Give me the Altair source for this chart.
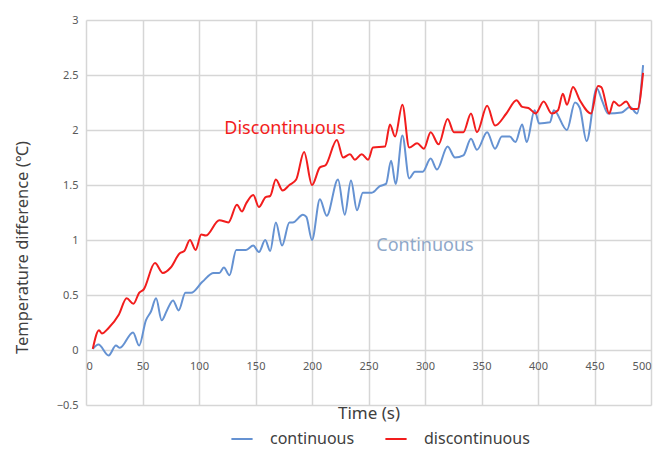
import altair as alt
import pandas as pd

# Temperature difference over time for the two operating modes
disc_t = [6, 11.5, 14, 20, 29, 36, 42, 47, 51, 61, 68, 75, 83, 87, 92, 97, 102, 106,
          118, 126, 133.6, 138, 141.6, 148, 153, 159, 163, 168, 174, 180, 186, 193,
          200, 207, 212, 222, 227.5, 233.6, 238, 244, 249.6, 254, 264.6, 269, 273.5,
          280, 286, 293, 299, 305, 312, 320, 325.6, 334, 340.7, 346, 355, 362, 372,
          381, 386, 391.5, 398, 405, 412, 417.7, 422, 425.6, 431, 437, 447, 453, 456,
          463, 467, 472, 478, 483, 488, 493]
disc_v = [0.01, 0.18, 0.15, 0.20, 0.32, 0.47, 0.42, 0.52, 0.55, 0.79, 0.70, 0.75, 0.88,
          0.90, 1.00, 0.91, 1.05, 1.04, 1.18, 1.16, 1.32, 1.26, 1.33, 1.41, 1.30, 1.39,
          1.40, 1.55, 1.45, 1.50, 1.55, 1.80, 1.50, 1.66, 1.68, 1.91, 1.75, 1.78, 1.73,
          1.78, 1.73, 1.84, 1.85, 2.05, 1.94, 2.23, 1.84, 1.88, 1.83, 1.98, 1.87, 2.10,
          1.98, 1.98, 2.15, 1.98, 2.22, 2.04, 2.15, 2.27, 2.21, 2.20, 2.15, 2.26, 2.15,
          2.18, 2.33, 2.23, 2.39, 2.27, 2.15, 2.40, 2.39, 2.15, 2.26, 2.22, 2.26, 2.19,
          2.19, 2.52]

cont_t = [6, 11, 20, 26.5, 30, 41.6, 47, 53, 57.5, 62, 67, 71.6, 77, 82, 88, 93, 103,
          113, 118, 122, 127, 133, 141.6, 148, 153, 158.6, 163, 168, 173.5, 180, 183,
          192, 195, 200, 207, 213, 223, 229, 234.5, 239.8, 245, 253, 260, 265.5, 270,
          274, 280, 286, 291, 298, 305, 310.6, 320, 326.5, 334, 340.7, 346, 355, 362,
          368, 375, 380, 386, 390, 397, 401, 410.6, 414, 425.6, 432.7, 437, 443, 452,
          456.6, 462, 474, 481.4, 487.6, 493]
cont_v = [0.01, 0.05, -0.05, 0.04, 0.02, 0.16, 0.04, 0.27, 0.35, 0.47, 0.27, 0.36, 0.45,
          0.36, 0.52, 0.52, 0.62, 0.70, 0.70, 0.75, 0.68, 0.91, 0.91, 0.95, 0.89, 1.00,
          0.90, 1.16, 0.95, 1.16, 1.16, 1.23, 1.21, 1.00, 1.37, 1.22, 1.55, 1.23, 1.54,
          1.27, 1.43, 1.43, 1.49, 1.51, 1.72, 1.51, 1.95, 1.56, 1.62, 1.62, 1.74, 1.64,
          1.85, 1.75, 1.77, 1.92, 1.82, 1.98, 1.83, 1.94, 1.94, 1.89, 2.05, 1.89, 2.18,
          2.06, 2.07, 2.18, 2.00, 2.25, 2.20, 1.90, 2.38, 2.27, 2.15, 2.16, 2.21, 2.15,
          2.59]

series_names = ["continuous", "discontinuous"]
series_colors = ["#6592d2", "#f21d1d"]

# In-plot annotations
note_text = ["Discontinuous", "Continuous"]
note_t = [176, 300]
note_v = [2.01, 0.945]
note_color = ["#f21d1d", "#8fa8c9"]

FONT = "Noto Sans"

lines_df = pd.concat([
    pd.DataFrame({"t": cont_t, "v": cont_v, "series": "continuous", "order": range(len(cont_t))}),
    pd.DataFrame({"t": disc_t, "v": disc_v, "series": "discontinuous", "order": range(len(disc_t))}),
])
notes_df = pd.DataFrame({"label": note_text, "t": note_t, "v": note_v, "color": note_color})

x_scale = alt.Scale(domain=[0, 500], nice=False)
y_scale = alt.Scale(domain=[-0.5, 3], nice=False)

lines = alt.Chart(lines_df).mark_line(strokeWidth=2, interpolate="monotone").encode(
    x=alt.X("t:Q", scale=x_scale, title="Time (s)",
            axis=alt.Axis(values=list(range(0, 501, 50)), offset=-55, domain=False,
                          ticks=False, labelPadding=10, labelFontSize=11,
                          labelColor="#595959", labelFont=FONT,
                          titleFontSize=17, titleColor="#404040", titleFont=FONT,
                          titleFontWeight="normal", titleY=63, titleBaseline="middle",
                          gridColor="#d6d6d6", gridWidth=1.5)),
    y=alt.Y("v:Q", scale=y_scale, title="Temperature difference (℃)",
            axis=alt.Axis(values=[-0.5, 0, 0.5, 1, 1.5, 2, 2.5, 3], format=".1~f",
                          domain=False, ticks=False, labelPadding=8, labelFontSize=11,
                          labelColor="#595959", labelFont=FONT,
                          titleFontSize=16.5, titleColor="#404040", titleFont=FONT,
                          titleFontWeight="normal", titleX=-56, titleY=227,
                          gridColor="#d6d6d6", gridWidth=1.5)),
    color=alt.Color("series:N", scale=alt.Scale(domain=series_names, range=series_colors),
                    legend=alt.Legend(title=None, orient="none", legendX=144, legendY=407,
                                      direction="horizontal", symbolType="stroke",
                                      symbolStrokeWidth=2, symbolSize=450,
                                      labelFontSize=16, labelColor="#404040",
                                      labelFont=FONT, labelOffset=16, columnPadding=26)),
    order="order:Q",
)

notes = alt.Chart(notes_df).mark_text(fontSize=18, font=FONT).encode(
    x=alt.X("t:Q", scale=x_scale),
    y=alt.Y("v:Q", scale=y_scale),
    text="label:N",
    color=alt.Color("color:N", scale=None),
)

chart = alt.layer(lines, notes).properties(
    width=565,
    height=385,
    autosize=alt.AutoSizeParams(type="none"),
    padding={"left": 86, "top": 20, "right": 7, "bottom": 44},
    background="white",
).configure_view(strokeWidth=0)

chart.save("out.html", embed_options={"renderer": "svg", "actions": False})
